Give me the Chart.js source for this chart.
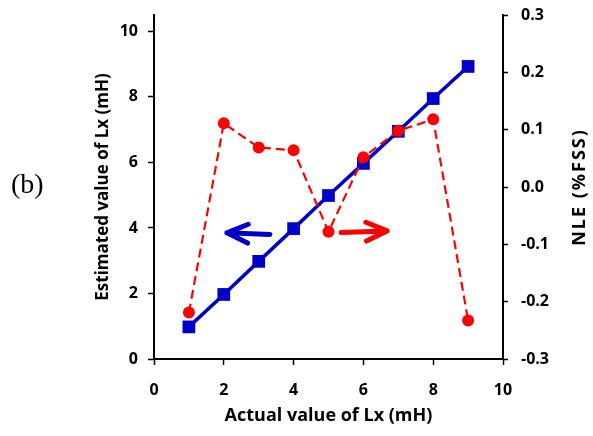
<!DOCTYPE html>
<html>
<head>
<meta charset="utf-8">
<script src="https://cdn.jsdelivr.net/npm/chart.js@4/dist/chart.umd.min.js"></script>
<style>
  html, body { margin: 0; padding: 0; background: #fff; }
  #wrap { position: relative; width: 593px; height: 436px; }
  #lbl { position: absolute; left: 11px; top: 168px; font-family: "Liberation Serif", serif; font-size: 28px; color: #000; }
</style>
</head>
<body>
<div id="wrap">
  <canvas id="c" width="593" height="436"></canvas>
  <div id="lbl">(b)</div>
</div>
<script>
// ---- data ----
const actualLx = [1, 2, 3, 4, 5, 6, 7, 8, 9];
const estimatedLx = [0.98, 1.97, 2.98, 3.98, 4.99, 5.97, 6.95, 7.95, 8.93];
const nle = [-0.219, 0.111, 0.069, 0.064, -0.078, 0.052, 0.098, 0.118, -0.233];
const xTicks = [0, 2, 4, 6, 8, 10];
const leftTicks = [0, 2, 4, 6, 8, 10];
const rightTicks = [-0.3, -0.2, -0.1, 0.0, 0.1, 0.2, 0.3];
const rightTitle = 'NLE (%FSS)';

// annotation arrows (data coords on x / left y axis)
const arrows = [
  { from: [3.32, 3.80], to: [2.09, 3.85], color: '#0000c8' },
  { from: [5.36, 3.86], to: [6.68, 3.91], color: '#ff0000' }
];

const FONT = '"Open Sans", Lato, sans-serif';
const BLUE = '#0000c8';
const RED = '#ff0000';

const arrowPlugin = {
  id: 'arrows',
  afterDatasetsDraw(chart) {
    const ctx = chart.ctx, xs = chart.scales.x, ys = chart.scales.y;
    arrows.forEach(a => {
      const x1 = xs.getPixelForValue(a.from[0]), y1 = ys.getPixelForValue(a.from[1]);
      const x2 = xs.getPixelForValue(a.to[0]), y2 = ys.getPixelForValue(a.to[1]);
      const ang = Math.atan2(y2 - y1, x2 - x1);
      const hl = 23, ha = 0.42;
      ctx.save();
      ctx.strokeStyle = a.color;
      ctx.lineWidth = 5;
      ctx.lineCap = 'round';
      ctx.lineJoin = 'round';
      ctx.beginPath();
      ctx.moveTo(x1, y1);
      ctx.lineTo(x2, y2);
      ctx.moveTo(x2 - hl * Math.cos(ang - ha), y2 - hl * Math.sin(ang - ha));
      ctx.lineTo(x2, y2);
      ctx.lineTo(x2 - hl * Math.cos(ang + ha), y2 - hl * Math.sin(ang + ha));
      ctx.stroke();
      ctx.restore();
    });
  },
  afterDraw(chart) {
    const ctx = chart.ctx, a = chart.chartArea;
    ctx.save();
    ctx.translate(580, (a.top + a.bottom) / 2);
    ctx.rotate(-Math.PI / 2);
    ctx.font = 'bold 18px ' + FONT;
    try { ctx.letterSpacing = '2px'; } catch (e) {}
    ctx.fillStyle = '#000';
    ctx.textAlign = 'center';
    ctx.textBaseline = 'middle';
    ctx.fillText(rightTitle, 0, 0);
    ctx.restore();
  }
};

function fixTicks(arr) {
  return function (scale) { scale.ticks = arr.map(v => ({ value: v })); };
}
function fitWidth(w) {
  return function (s) { s.width = w; s.paddingTop = 0; s.paddingBottom = 0; };
}

const tickFont = { family: FONT, size: 16, weight: 'bold' };

new Chart(document.getElementById('c'), {
  type: 'scatter',
  data: {
    datasets: [
      {
        label: 'NLE',
        data: actualLx.map((x, i) => ({ x: x, y: nle[i] })),
        yAxisID: 'y2',
        showLine: true,
        borderColor: RED,
        backgroundColor: RED,
        borderWidth: 2.2,
        borderDash: [9, 5],
        pointStyle: 'circle',
        pointRadius: 6,
        pointBorderWidth: 0,
        order: 0
      },
      {
        label: 'Estimated',
        data: actualLx.map((x, i) => ({ x: x, y: estimatedLx[i] })),
        yAxisID: 'y',
        showLine: true,
        borderColor: BLUE,
        backgroundColor: BLUE,
        borderWidth: 3.5,
        pointStyle: 'rect',
        pointRadius: 9,
        pointBorderWidth: 0,
        order: 1
      }
    ]
  },
  options: {
    responsive: false,
    animation: false,
    layout: { padding: { top: 15, left: 0, right: 0, bottom: 0 } },
    plugins: { legend: { display: false }, tooltip: { enabled: false } },
    scales: {
      x: {
        type: 'linear', min: 0, max: 10,
        afterBuildTicks: fixTicks(xTicks),
        afterFit(s) { s.height = 77; },
        grid: { drawOnChartArea: false, color: '#000', tickLength: 6, tickWidth: 1.5 },
        border: { color: '#000', width: 2 },
        ticks: { color: '#000', font: tickFont, padding: 16, maxRotation: 0 },
        title: { display: true, text: 'Actual value of Lx (mH)', color: '#000',
                 font: { family: FONT, size: 18, weight: 'bold' }, padding: { top: 0, bottom: 9 } }
      },
      y: {
        type: 'linear', position: 'left', min: 0, max: 10.5,
        afterBuildTicks: fixTicks(leftTicks),
        afterFit: fitWidth(154),
        grid: { drawOnChartArea: false, color: '#000', tickLength: 6, tickWidth: 1.5 },
        border: { color: '#000', width: 2 },
        ticks: { color: '#000', font: tickFont, padding: 10 },
        title: { display: true, text: 'Estimated value of Lx (mH)', color: '#000',
                 font: { family: FONT, size: 17, weight: 'bold' }, padding: { top: 93, bottom: 0 } }
      },
      y2: {
        type: 'linear', position: 'right', min: -0.3, max: 0.3,
        afterBuildTicks: fixTicks(rightTicks),
        afterFit: fitWidth(90),
        grid: { drawOnChartArea: false, color: '#000', tickLength: 5, tickWidth: 1.5 },
        border: { color: '#000', width: 2 },
        ticks: { color: '#000', font: tickFont, padding: 13,
                 callback: v => Number(v).toFixed(1) },
        title: { display: false }
      }
    }
  },
  plugins: [arrowPlugin]
});
</script>
</body>
</html>
